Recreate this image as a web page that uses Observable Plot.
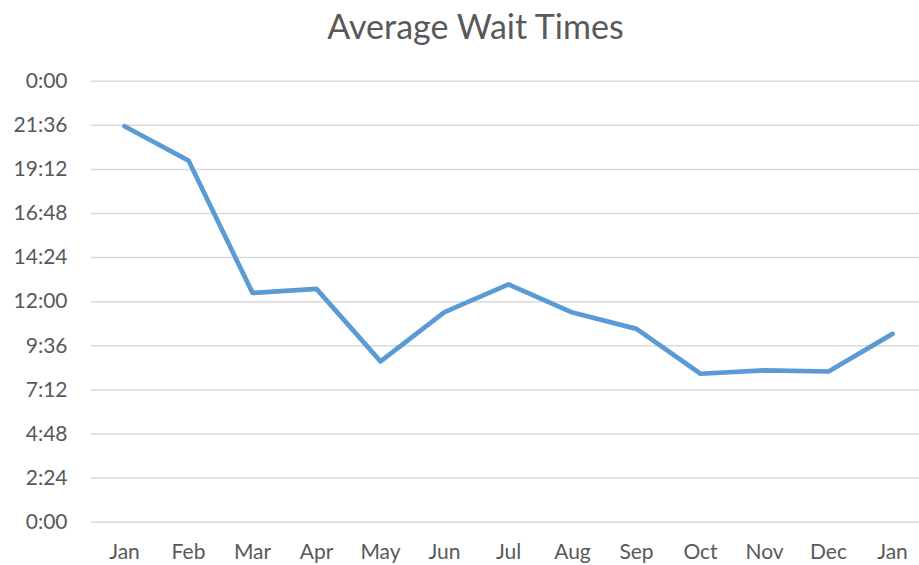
<!DOCTYPE html>
<html>
<head>
<meta charset="utf-8">
<script src="https://cdn.jsdelivr.net/npm/d3@7"></script>
<script src="https://cdn.jsdelivr.net/npm/@observablehq/plot@0.6"></script>
<style>
  html, body { margin: 0; padding: 0; background: #fff; }
  #wrap { width: 919px; height: 565px; position: relative; overflow: hidden; }
  #title { height: 60px; font-family: Lato, "Open Sans", sans-serif; font-size: 34px; color: #595959; text-align: center; line-height: 52px; padding-left: 32px; box-sizing: border-box; }
</style>
</head>
<body>
<div id="wrap">
  <div id="title">Average Wait Times</div>
  <div id="chart"></div>
</div>
<script>
const months = ["Jan","Feb","Mar","Apr","May","Jun","Jul","Aug","Sep","Oct","Nov","Dec","Jan"];
const waitHours = [21.55, 19.68, 12.48, 12.70, 8.75, 11.43, 12.94, 11.41, 10.52, 8.08, 8.26, 8.20, 10.25];
const yTicks = [0, 2.4, 4.8, 7.2, 9.6, 12, 14.4, 16.8, 19.2, 21.6, 24];

const data = months.map((m, i) => ({i, month: m, hours: waitHours[i]}));

function fmtTime(v) {
  const h = Math.floor(v + 1e-9);
  const mins = Math.round((v - h) * 60);
  return (h % 24) + ":" + String(mins).padStart(2, "0");
}

const chart = Plot.plot({
  width: 919,
  height: 505,
  marginTop: 20.7,
  marginBottom: 43.3,
  marginLeft: 90.7,
  marginRight: 0,
  style: {fontFamily: "Lato, 'Open Sans', sans-serif", fontSize: "21px", color: "#595959", background: "#fff"},
  x: {type: "point", domain: d3.range(months.length), range: [121.7, 894], padding: 0, label: null},
  y: {domain: [0, 24], label: null},
  marks: [
    Plot.gridY(yTicks, {stroke: "#d9d9d9", strokeOpacity: 1, strokeWidth: 1.5}),
    Plot.axisY(yTicks, {tickSize: 0, tickPadding: 23.7, tickFormat: fmtTime, fill: "#595959", label: null}),
    Plot.axisX(d3.range(months.length), {tickSize: 0, tickPadding: 22, tickFormat: i => months[i], fill: "#595959", label: null}),
    Plot.lineY(data, {x: "i", y: "hours", stroke: "#5b9bd5", strokeWidth: 4.7, strokeLinejoin: "round", strokeLinecap: "round"})
  ]
});
document.getElementById("chart").appendChild(chart);
</script>
</body>
</html>
